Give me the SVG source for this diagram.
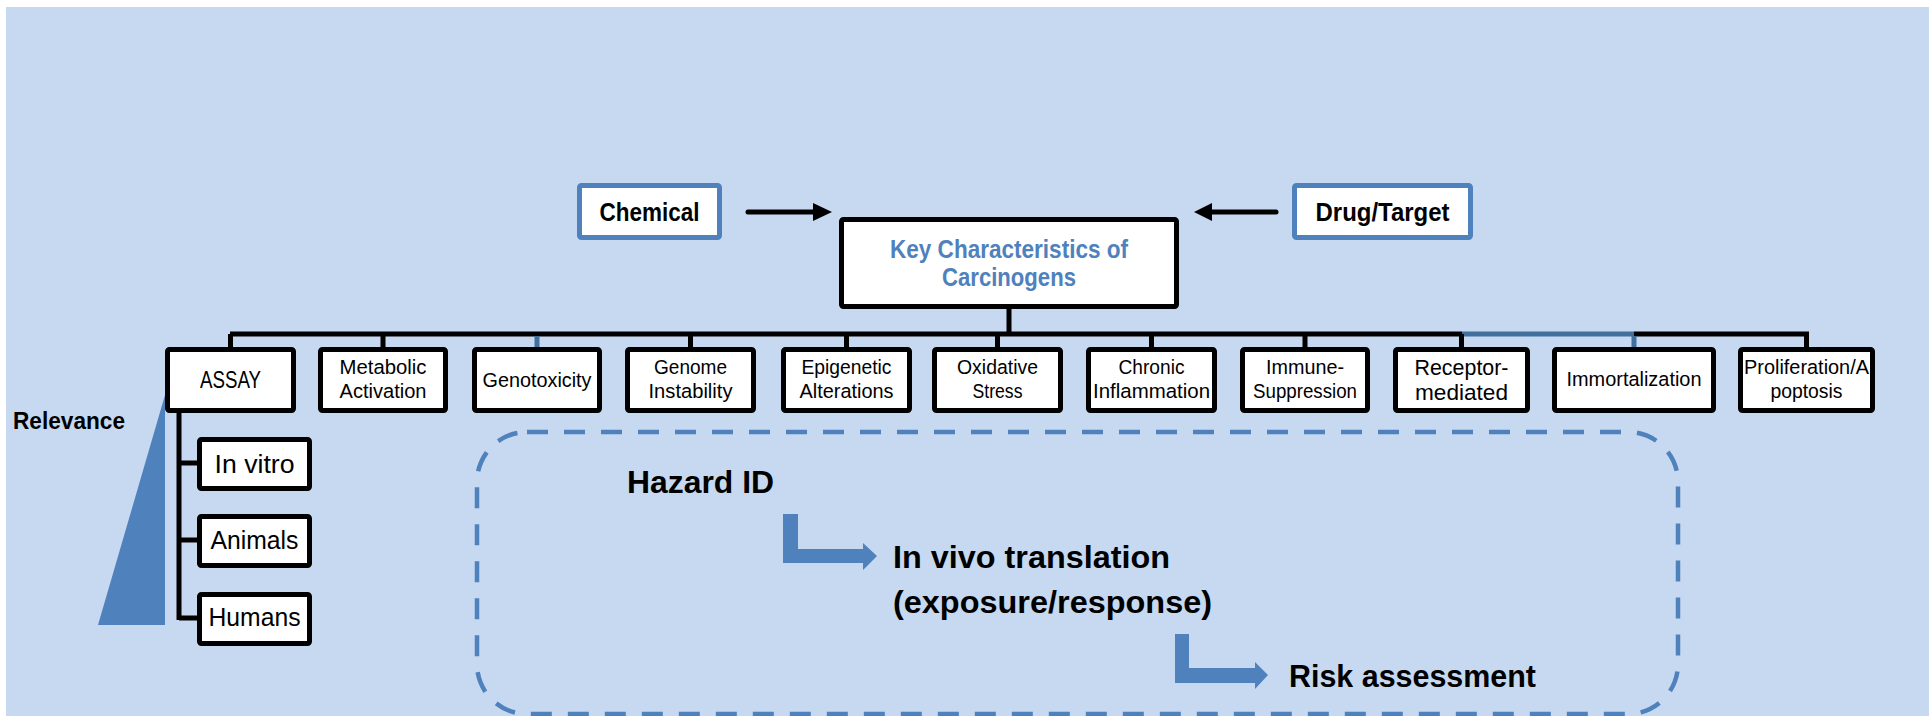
<svg xmlns="http://www.w3.org/2000/svg" width="1929" height="716" viewBox="0 0 1929 716">
<style>
.box{fill:#fff;stroke:#000;stroke-width:5;}
.src{fill:#fff;stroke:#4F81BD;stroke-width:5;}
.ln{stroke:#000;stroke-width:5;fill:none;}
.lnb{stroke:#41709F;stroke-width:5;fill:none;}
.t{font-family:"Liberation Sans",Arial,sans-serif;font-size:20.5px;fill:#000;text-anchor:middle;}
.tb{font-family:"Liberation Sans",Arial,sans-serif;font-weight:bold;fill:#000;}
.blue{fill:#4F81BD;}
</style>
<rect x="6" y="7" width="1923" height="709" fill="#C6D9F0"/>

<g id="connectors">
  <path class="ln" d="M1009,309 V334"/>
  <path class="ln" d="M230,334 H1462"/>
  <path class="lnb" d="M1462,334 H1634"/>
  <path class="ln" d="M1634,334 H1806.5 V347"/>
  <path class="ln" d="M230.5,334 V347 M383,334 V347 M690.5,334 V347 M846.5,334 V347 M997.5,334 V347 M1151.5,334 V347 M1305,334 V347 M1461.5,334 V347"/>
  <path class="lnb" d="M537,336 V347 M1634,336 V347"/>
  <path class="ln" d="M179,412 V620 M179,463 H197 M179,540 H197 M179,618 H197"/>
  <path class="ln" stroke-linecap="round" d="M748,212 H814"/>
  <polygon points="813,203 832,212 813,221" fill="#000"/>
  <path class="ln" stroke-linecap="round" d="M1211,212 H1276"/>
  <polygon points="1212,203 1194,212 1212,221" fill="#000"/>
</g>

<g id="relevance">
  <polygon class="blue" points="98,625 165,625 165,395"/>
  <text class="tb" x="13" y="429" font-size="23" textLength="112" lengthAdjust="spacingAndGlyphs">Relevance</text>
</g>

<g id="chemical">
  <rect class="src" x="579.5" y="185.5" width="140" height="52" rx="2"/>
  <text class="tb" x="649.5" y="221" font-size="25" text-anchor="middle" textLength="100" lengthAdjust="spacingAndGlyphs">Chemical</text>
</g>
<g id="drug-target">
  <rect class="src" x="1294.5" y="185.5" width="176" height="52" rx="2"/>
  <text class="tb" x="1382.5" y="221" font-size="25" text-anchor="middle" textLength="134" lengthAdjust="spacingAndGlyphs">Drug/Target</text>
</g>
<g id="key-characteristics">
  <rect class="box" x="841.5" y="219.5" width="335" height="87" rx="2"/>
  <text class="tb" x="1009" y="258" font-size="26" text-anchor="middle" style="fill:#4F81BD" textLength="238" lengthAdjust="spacingAndGlyphs">Key Characteristics of</text>
  <text class="tb" x="1009" y="286" font-size="26" text-anchor="middle" style="fill:#4F81BD" textLength="134" lengthAdjust="spacingAndGlyphs">Carcinogens</text>
</g>

<g id="assay">
  <rect class="box" x="167.5" y="349.5" width="126" height="61" rx="2"/>
  <text class="t" x="230.5" y="388" style="font-size:24px" textLength="61" lengthAdjust="spacingAndGlyphs">ASSAY</text>
</g>
<g id="metabolic">
  <rect class="box" x="320.5" y="349.5" width="125" height="61" rx="2"/>
  <text class="t" x="383" y="374" textLength="87" lengthAdjust="spacingAndGlyphs">Metabolic</text>
  <text class="t" x="383" y="398" textLength="87" lengthAdjust="spacingAndGlyphs">Activation</text>
</g>
<g id="genotoxicity">
  <rect class="box" x="474.5" y="349.5" width="125" height="61" rx="2"/>
  <text class="t" x="537" y="387" textLength="109" lengthAdjust="spacingAndGlyphs">Genotoxicity</text>
</g>
<g id="genome">
  <rect class="box" x="627.5" y="349.5" width="126" height="61" rx="2"/>
  <text class="t" x="690.5" y="374" textLength="73" lengthAdjust="spacingAndGlyphs">Genome</text>
  <text class="t" x="690.5" y="398" textLength="84" lengthAdjust="spacingAndGlyphs">Instability</text>
</g>
<g id="epigenetic">
  <rect class="box" x="783.5" y="349.5" width="126" height="61" rx="2"/>
  <text class="t" x="846.5" y="374" textLength="90" lengthAdjust="spacingAndGlyphs">Epigenetic</text>
  <text class="t" x="846.5" y="398" textLength="94" lengthAdjust="spacingAndGlyphs">Alterations</text>
</g>
<g id="oxidative">
  <rect class="box" x="934.5" y="349.5" width="126" height="61" rx="2"/>
  <text class="t" x="997.5" y="374" textLength="81" lengthAdjust="spacingAndGlyphs">Oxidative</text>
  <text class="t" x="997.5" y="398" textLength="50" lengthAdjust="spacingAndGlyphs">Stress</text>
</g>
<g id="chronic">
  <rect class="box" x="1088.5" y="349.5" width="126" height="61" rx="2"/>
  <text class="t" x="1151.5" y="374" textLength="66" lengthAdjust="spacingAndGlyphs">Chronic</text>
  <text class="t" x="1151.5" y="398" textLength="117" lengthAdjust="spacingAndGlyphs">Inflammation</text>
</g>
<g id="immune">
  <rect class="box" x="1242.5" y="349.5" width="125" height="61" rx="2"/>
  <text class="t" x="1305" y="374" textLength="78" lengthAdjust="spacingAndGlyphs">Immune-</text>
  <text class="t" x="1305" y="398" textLength="104" lengthAdjust="spacingAndGlyphs">Suppression</text>
</g>
<g id="receptor">
  <rect class="box" x="1395.5" y="349.5" width="132" height="61" rx="2"/>
  <text class="t" x="1461.5" y="375" style="font-size:22.5px" textLength="94" lengthAdjust="spacingAndGlyphs">Receptor-</text>
  <text class="t" x="1461.5" y="400" style="font-size:22.5px" textLength="93" lengthAdjust="spacingAndGlyphs">mediated</text>
</g>
<g id="immortalization">
  <rect class="box" x="1554.5" y="349.5" width="159" height="61" rx="2"/>
  <text class="t" x="1634" y="386" textLength="135" lengthAdjust="spacingAndGlyphs">Immortalization</text>
</g>
<g id="proliferation">
  <rect class="box" x="1740.5" y="349.5" width="132" height="61" rx="2"/>
  <text class="t" x="1806.5" y="374" textLength="125" lengthAdjust="spacingAndGlyphs">Proliferation/A</text>
  <text class="t" x="1806.5" y="398" textLength="72" lengthAdjust="spacingAndGlyphs">poptosis</text>
</g>

<g id="in-vitro">
  <rect class="box" x="199.5" y="439.5" width="110" height="49" rx="2"/>
  <text class="t" x="254.5" y="473" style="font-size:26px" textLength="80" lengthAdjust="spacingAndGlyphs">In vitro</text>
</g>
<g id="animals">
  <rect class="box" x="199.5" y="516.5" width="110" height="49" rx="2"/>
  <text class="t" x="254.5" y="549" style="font-size:26px" textLength="88" lengthAdjust="spacingAndGlyphs">Animals</text>
</g>
<g id="humans">
  <rect class="box" x="199.5" y="594.5" width="110" height="49" rx="2"/>
  <text class="t" x="254.5" y="626" style="font-size:26px" textLength="92" lengthAdjust="spacingAndGlyphs">Humans</text>
</g>

<g id="process">
  <rect x="477" y="432" width="1201" height="282" rx="50" fill="none" stroke="#4F81BD" stroke-width="4.5" stroke-dasharray="21 16"/>
  <text class="tb" x="627" y="493" font-size="32" textLength="147" lengthAdjust="spacingAndGlyphs">Hazard ID</text>
  <path class="blue" d="M783,514 H798 V549 H863 V543 L877,556 L863,570 V563 H783 Z"/>
  <text class="tb" x="893" y="568" font-size="32" textLength="277" lengthAdjust="spacingAndGlyphs">In vivo translation</text>
  <text class="tb" x="893" y="613" font-size="32" textLength="319" lengthAdjust="spacingAndGlyphs">(exposure/response)</text>
  <path class="blue" d="M1175,634 H1189 V668 H1255 V662 L1268,675 L1255,689 V683 H1175 Z"/>
  <text class="tb" x="1289" y="687" font-size="32" textLength="247" lengthAdjust="spacingAndGlyphs">Risk assessment</text>
</g>
</svg>
